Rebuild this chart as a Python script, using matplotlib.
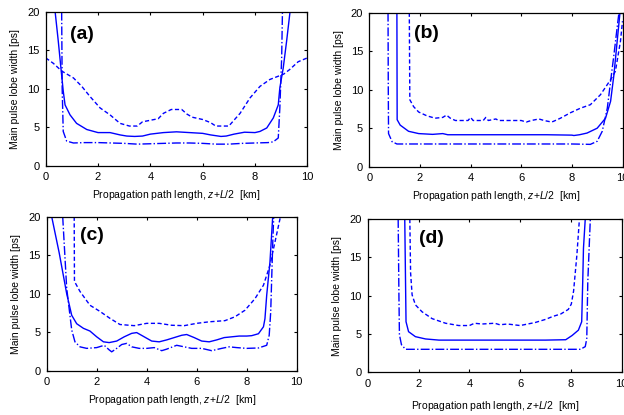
import numpy as np
import matplotlib
matplotlib.use('Agg')
import matplotlib.pyplot as plt

plt.rcParams['font.family'] = ['Liberation Sans', 'DejaVu Sans']
plt.rcParams['mathtext.fontset'] = 'custom'
plt.rcParams['mathtext.rm'] = 'Liberation Sans'
plt.rcParams['mathtext.it'] = 'Liberation Sans:italic'

# ---- data (km, ps) ----
# panel (a)
xa_solid = [0.36, 0.48, 0.57, 0.67, 0.74, 0.93, 1.18, 1.57, 2.0, 2.46, 2.84, 3.1, 3.4, 3.7, 4.0, 4.5, 5.0,
            5.5, 6.0, 6.3, 6.7, 6.9, 7.2, 7.6, 8.0, 8.19, 8.45, 8.7, 8.89, 8.95, 9.08, 9.21, 9.34]
ya_solid = [20, 16.2, 13.1, 9.7, 7.9, 6.6, 5.5, 4.7, 4.3, 4.3, 4.0, 3.85, 3.8, 3.85, 4.1, 4.3, 4.4,
            4.3, 4.2, 4.0, 3.8, 3.85, 4.1, 4.35, 4.3, 4.45, 4.9, 6.2, 7.9, 10.1, 12.7, 16.2, 20]
xa_dash = [0, 0.29, 0.61, 1.06, 1.38, 1.69, 2.08, 2.46, 2.84, 3.2, 3.5, 3.7, 4.0, 4.3, 4.5, 4.8, 5.2,
           5.4, 5.6, 6.0, 6.3, 6.5, 7.0, 7.43, 7.81, 8.19, 8.57, 8.95, 9.1, 9.33, 9.65, 10]
ya_dash = [14.0, 13.3, 12.3, 11.4, 10.3, 9.0, 7.5, 6.6, 5.5, 5.15, 5.15, 5.7, 5.9, 6.1, 6.8, 7.3, 7.3,
           6.7, 6.3, 6.0, 5.6, 5.15, 5.15, 6.8, 8.8, 10.3, 11.2, 11.7, 11.9, 12.5, 13.5, 14.0]
xa_dot = [0.61, 0.63, 0.67, 0.8, 1.06, 1.5, 2.0, 2.5, 3.0, 3.5, 4.0, 4.5, 5.0, 5.5, 6.0, 6.5, 7.0,
          7.5, 8.0, 8.5, 8.7, 8.89, 8.95, 9.02, 9.05]
ya_dot = [20, 10, 4.45, 3.2, 2.95, 3.0, 3.0, 2.95, 2.9, 2.8, 2.85, 2.9, 2.95, 2.95, 2.9, 2.8, 2.8,
          2.9, 2.95, 3.0, 3.1, 3.6, 7.5, 14, 20]

# panel (b)
xb_solid = [1.09, 1.1, 1.22, 1.55, 1.95, 2.5, 2.9, 3.1, 4.0, 5.0, 6.0, 7.0, 8.0, 8.08, 8.3, 8.6,
            9.0, 9.33, 9.53, 9.66, 9.79, 9.9]
yb_solid = [20, 6.1, 5.4, 4.6, 4.3, 4.2, 4.3, 4.15, 4.15, 4.15, 4.15, 4.15, 4.1, 4.05, 4.15, 4.37,
            5.0, 6.3, 8.5, 11.9, 16.3, 20]
xb_dash = [1.58, 1.6, 1.75, 1.95, 2.28, 2.6, 2.9, 3.05, 3.2, 3.4, 3.9, 4.0, 4.1, 4.5, 4.6, 4.7, 5.0,
           5.1, 6.0, 6.2, 6.4, 6.7, 6.9, 7.2, 7.28, 7.55, 7.94, 8.34, 8.73, 9.13, 9.53, 9.72, 9.92, 10.0]
yb_dash = [20, 8.7, 7.8, 7.1, 6.6, 6.3, 6.4, 6.7, 6.3, 6.0, 6.0, 6.4, 6.0, 6.0, 6.4, 6.0, 6.2,
           6.0, 6.0, 5.8, 6.0, 6.2, 6.0, 5.8, 5.9, 6.3, 7.0, 7.6, 8.05, 9.35, 11.3, 12.4, 16.3, 18.9]
xb_dot = [0.74, 0.75, 0.76, 0.9, 1.09, 2.0, 3.0, 4.0, 5.0, 6.0, 7.0, 8.0, 8.73, 9.0, 9.2, 9.4,
          9.53, 9.66, 9.8, 9.86]
yb_dot = [20, 10, 4.3, 3.25, 2.95, 2.95, 2.95, 2.95, 2.95, 2.95, 2.95, 2.95, 2.9, 3.3, 4.6, 7.6,
          11.1, 14.5, 18.4, 20]

# panel (c)
xc_solid = [0.2, 0.5, 0.8, 1.0, 1.2, 1.47, 1.73, 2.0, 2.27, 2.5, 2.8, 3.1, 3.4, 3.6, 3.9, 4.2, 4.5,
            4.8, 5.1, 5.4, 5.6, 5.9, 6.2, 6.5, 6.8, 7.1, 7.4, 7.7, 8.0, 8.2, 8.47, 8.67, 8.73, 8.8,
            8.93, 9.04]
yc_solid = [20, 15.3, 10.0, 7.2, 6.1, 5.5, 5.15, 4.4, 3.75, 3.65, 3.85, 4.4, 4.85, 4.95, 4.4, 3.85,
            3.75, 4.0, 4.3, 4.6, 4.7, 4.3, 3.85, 3.75, 4.0, 4.3, 4.4, 4.5, 4.5, 4.55, 4.8, 5.7,
            6.75, 9.8, 14.1, 20]
xc_dash = [1.1, 1.11, 1.33, 1.73, 2.13, 2.53, 2.93, 3.5, 4.0, 4.5, 5.0, 5.5, 6.0, 6.5, 7.13, 7.53,
           7.93, 8.33, 8.67, 8.93, 9.13, 9.35]
yc_dash = [20, 11.6, 10.3, 8.5, 7.7, 6.8, 6.0, 5.85, 6.15, 6.15, 5.9, 5.85, 6.15, 6.35, 6.5, 7.0,
           7.85, 9.35, 11.1, 13.7, 16.7, 20]
xc_dot = [0.64, 0.8, 0.93, 1.0, 1.13, 1.33, 1.6, 2.0, 2.3, 2.5, 2.6, 2.8, 3.0, 3.2, 3.4, 3.7, 4.0,
          4.3, 4.6, 4.8, 5.2, 5.5, 5.8, 6.2, 6.6, 7.0, 7.3, 7.6, 8.0, 8.47, 8.8, 8.9, 8.96, 9.0,
          9.04, 9.08]
yc_dot = [20, 10.7, 7.2, 5.3, 3.75, 3.1, 2.9, 3.0, 3.3, 2.7, 2.45, 2.9, 3.4, 3.55, 3.1, 2.9, 2.9,
          3.0, 2.6, 2.8, 3.3, 3.1, 2.9, 2.9, 2.6, 2.9, 3.1, 3.0, 2.9, 2.95, 3.3, 4.6, 7.6, 12.0,
          16.4, 20]

# panel (d)
xd_solid = [1.45, 1.5, 1.6, 1.87, 2.27, 2.8, 4.0, 5.0, 6.0, 7.0, 7.8, 8.05, 8.3, 8.43, 8.47, 8.5, 8.57]
yd_solid = [20, 6.6, 5.3, 4.65, 4.35, 4.2, 4.2, 4.2, 4.2, 4.2, 4.25, 4.8, 5.5, 6.6, 11.8, 16.2, 20]
xd_dash = [1.65, 1.68, 1.74, 1.87, 2.13, 2.53, 3.06, 3.58, 4.0, 4.2, 4.5, 5.0, 5.2, 5.5, 6.0, 6.3,
           6.6, 7.0, 7.3, 7.6, 7.9, 8.02, 8.11, 8.24, 8.34]
yd_dash = [20, 13, 10.1, 8.8, 7.9, 7.0, 6.4, 6.1, 6.1, 6.4, 6.3, 6.4, 6.2, 6.3, 6.1, 6.3,
           6.5, 6.9, 7.3, 7.6, 8.2, 8.9, 10.6, 15.3, 20]
xd_dot = [1.19, 1.22, 1.24, 1.32, 1.48, 2.0, 3.0, 4.0, 5.0, 6.0, 7.0, 8.0, 8.38, 8.57, 8.63, 8.67, 8.77]
yd_dot = [20, 10, 4.9, 3.6, 3.0, 3.0, 3.0, 3.0, 3.0, 3.0, 3.0, 3.0, 3.0, 3.35, 4.4, 11.8, 20]

panel_names = ['(a)', '(b)', '(c)', '(d)']
label_pos = [(0.93, 17.1), (1.75, 17.3), (1.33, 17.6), (2.03, 17.5)]
# axes boxes in pixels: left, right, top, bottom
boxes = [(45.7, 307.3, 11.7, 165.7), (369.3, 622.5, 12.7, 166.7),
         (46.7, 296.7, 216.7, 370.7), (368, 621.5, 219, 372.3)]
xlab_pad = [4, 4, 4, 7.5]

data = [((xa_solid, ya_solid), (xa_dash, ya_dash), (xa_dot, ya_dot)),
        ((xb_solid, yb_solid), (xb_dash, yb_dash), (xb_dot, yb_dot)),
        ((xc_solid, yc_solid), (xc_dash, yc_dash), (xc_dot, yc_dot)),
        ((xd_solid, yd_solid), (xd_dash, yd_dash), (xd_dot, yd_dot))]

W, H = 624, 415
fig = plt.figure(figsize=(W/100, H/100), dpi=100)

for i in range(4):
    l, r, t, b = boxes[i]
    ax = fig.add_axes([l/W, 1 - b/H, (r - l)/W, (b - t)/H])
    (xs, ys), (xd, yd), (xp, yp) = data[i]
    ax.plot(xs, ys, color='#0000ff', lw=1.0, ls='-')
    ax.plot(xd, yd, color='#0000ff', lw=1.0, ls=(0, (3, 1.8)))
    ax.plot(xp, yp, color='#0000ff', lw=1.0, ls='-.')
    ax.set_xlim(0, 10)
    ax.set_ylim(0, 20)
    ax.set_xticks(np.arange(0, 11, 2))
    ax.set_yticks(np.arange(0, 21, 5))
    ax.tick_params(direction='in', top=True, right=True, length=2.5, width=0.8,
                   labelsize=8, pad=4.5)
    for sp in ax.spines.values():
        sp.set_linewidth(0.9)
    ax.set_xlabel('Propagation path length, $z$+$L$/2  [km]', fontsize=7.5, labelpad=xlab_pad[i])
    ax.set_ylabel('Main pulse lobe width [ps]', fontsize=7.5, labelpad=5)
    ax.text(label_pos[i][0], label_pos[i][1], panel_names[i], fontsize=14,
            fontweight='bold', va='center', ha='left')

fig.savefig('out.png', dpi=100)
